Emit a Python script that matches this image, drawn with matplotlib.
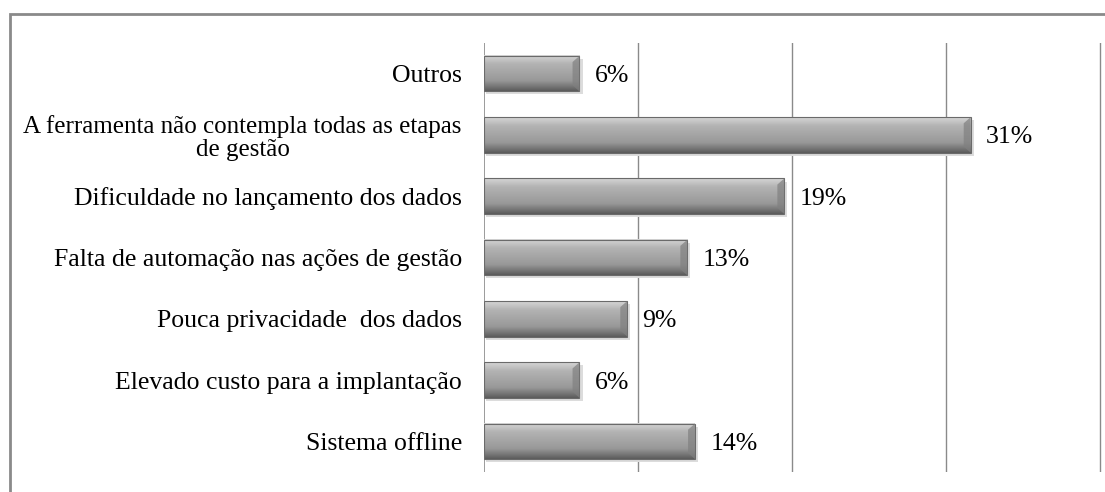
import matplotlib
matplotlib.use('Agg')
import matplotlib.pyplot as plt
from matplotlib.patches import Rectangle, Polygon
import numpy as np

plt.rcParams['font.family'] = ['Liberation Serif', 'DejaVu Serif']

# dados (de baixo para cima)
categorias = ['Sistema offline',
              'Elevado custo para a implantação',
              'Pouca privacidade  dos dados',
              'Falta de automação nas ações de gestão',
              'Dificuldade no lançamento dos dados',
              'A ferramenta não contempla todas as etapas\nde gestão',
              'Outros']
valores = [13.7, 6.2, 9.3, 13.2, 19.5, 31.6, 6.2]
rotulos = ['14%', '6%', '9%', '13%', '19%', '31%', '6%']
grade = [10, 20, 30, 40]

W, H = 1105, 492
fig = plt.figure(figsize=(W / 100, H / 100), dpi=100)
x0, x1 = 484, 1105
ytop, ybot = 43, 472
ax = fig.add_axes([x0 / W, 1 - ybot / H, (x1 - x0) / W, (ybot - ytop) / H])

escala = 15.4  # px por %
ax.set_xlim(0, (x1 - x0) / escala)
ax.set_ylim(-0.5, len(categorias) - 0.5)

for g in grade:
    ax.axvline(g, color='#8a8a8a', lw=1.0, zorder=0)
ax.axvline(0, color='#8a8a8a', lw=1.2, zorder=0)

# gradiente cilíndrico cinza
grad = np.concatenate([np.linspace(0.84, 0.70, 25), np.linspace(0.70, 0.60, 45),
                       np.linspace(0.60, 0.36, 30)])
img = np.dstack([grad, grad, grad]).reshape(-1, 1, 3)
h = 0.58
for i, v in enumerate(valores):
    # sombra
    ax.add_patch(Rectangle((0.1, i - h / 2 - 0.05), v + 0.1, h, color='#dcdcdc', lw=0, zorder=1))
    ax.imshow(img, extent=[0, v, i - h / 2, i + h / 2], aspect='auto',
              origin='upper', zorder=2, interpolation='bilinear')
    ax.add_patch(Rectangle((0, i - h / 2), v, h, fill=False, ec='#6a6a6a', lw=0.8, zorder=3))
    # bisel na ponta
    ax.add_patch(Polygon([(v - 0.45, i + h / 2 - 0.1), (v, i + h / 2), (v, i - h / 2), (v - 0.45, i - h / 2 + 0.1)],
                         closed=True, color='#808080', lw=0, alpha=0.7, zorder=3))
    ax.text(v + 1.0, i, rotulos[i], va='center_baseline', ha='left', fontsize=18.5, color='#000000')

ax.set_yticks(range(len(categorias)))
ax.set_yticklabels(categorias, fontsize=18.5, color='#000000', multialignment='center',
                   linespacing=1.05)
ax.get_yticklabels()[5].set_fontsize(18)
ax.tick_params(axis='y', length=0, pad=16)
ax.set_xticks([])
for s in ax.spines.values():
    s.set_visible(False)

# moldura do gráfico
fig.add_artist(Rectangle((10 / W, -0.1), 1.2, 1 - 14 / H + 0.1, transform=fig.transFigure,
                         fill=False, ec='#8a8a8a', lw=2))

fig.savefig('out.png', dpi=100)
